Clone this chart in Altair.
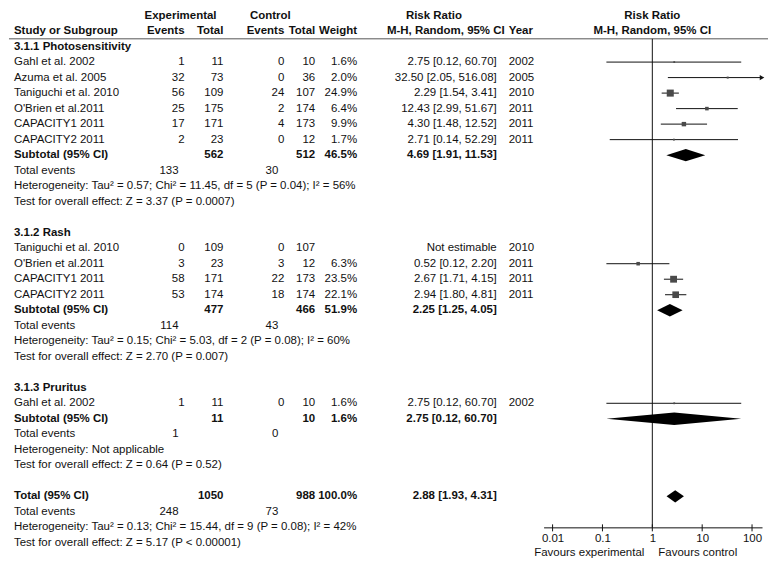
import altair as alt
import pandas as pd

# ---------------- data ----------------
subgroup_titles = ["3.1.1 Photosensitivity", "3.1.2 Rash", "3.1.3 Pruritus"]

photo_study = ["Gahl et al. 2002", "Azuma et al. 2005", "Taniguchi et al. 2010",
               "O'Brien et al.2011", "CAPACITY1 2011", "CAPACITY2 2011"]
photo_exp_events = [1, 32, 56, 25, 17, 2]
photo_exp_total = [11, 73, 109, 175, 171, 23]
photo_ctl_events = [0, 0, 24, 2, 4, 0]
photo_ctl_total = [10, 36, 107, 174, 173, 12]
photo_weight = [1.6, 2.0, 24.9, 6.4, 9.9, 1.7]
photo_rr = [2.75, 32.50, 2.29, 12.43, 4.30, 2.71]
photo_lo = [0.12, 2.05, 1.54, 2.99, 1.48, 0.14]
photo_hi = [60.70, 516.08, 3.41, 51.67, 12.52, 52.29]
photo_year = [2002, 2005, 2010, 2011, 2011, 2011]

rash_study = ["Taniguchi et al. 2010", "O'Brien et al.2011", "CAPACITY1 2011", "CAPACITY2 2011"]
rash_exp_events = [0, 3, 58, 53]
rash_exp_total = [109, 23, 171, 174]
rash_ctl_events = [0, 3, 22, 18]
rash_ctl_total = [107, 12, 173, 174]
rash_weight = [None, 6.3, 23.5, 22.1]
rash_rr = [None, 0.52, 2.67, 2.94]
rash_lo = [None, 0.12, 1.71, 1.80]
rash_hi = [None, 2.20, 4.15, 4.81]
rash_year = [2010, 2011, 2011, 2011]

pru_study = ["Gahl et al. 2002"]
pru_exp_events = [1]
pru_exp_total = [11]
pru_ctl_events = [0]
pru_ctl_total = [10]
pru_weight = [1.6]
pru_rr = [2.75]
pru_lo = [0.12]
pru_hi = [60.70]
pru_year = [2002]

sub_exp_total = [562, 477, 11]
sub_ctl_total = [512, 466, 10]
sub_weight = [46.5, 51.9, 1.6]
sub_rr = [4.69, 2.25, 2.75]
sub_lo = [1.91, 1.25, 0.12]
sub_hi = [11.53, 4.05, 60.70]
sub_exp_events = [133, 114, 1]
sub_ctl_events = [30, 43, 0]
sub_het = ["Heterogeneity: Tau² = 0.57; Chi² = 11.45, df = 5 (P = 0.04); I² = 56%",
           "Heterogeneity: Tau² = 0.15; Chi² = 5.03, df = 2 (P = 0.08); I² = 60%",
           "Heterogeneity: Not applicable"]
sub_test = ["Test for overall effect: Z = 3.37 (P = 0.0007)",
            "Test for overall effect: Z = 2.70 (P = 0.007)",
            "Test for overall effect: Z = 0.64 (P = 0.52)"]

total_exp_total = 1050
total_ctl_total = 988
total_weight = 100.0
total_rr, total_lo, total_hi = 2.88, 1.93, 4.31
total_exp_events = 248
total_ctl_events = 73
total_het = "Heterogeneity: Tau² = 0.13; Chi² = 15.44, df = 9 (P = 0.08); I² = 42%"
total_test = "Test for overall effect: Z = 5.17 (P < 0.00001)"

axis_ticks = [0.01, 0.1, 1, 10, 100]

# ---------------- layout / style ----------------
FONT = "Liberation Sans"
FS = 11.5
TXT = "#111"
W = 761
H = 519
ROW_PX = 15.55
Y_MAX = 33
Y_MIN = Y_MAX - H / ROW_PX
X_RANGE = [536, 755]
X_DOMAIN = [0.0066, 158.5]
DIAMOND_HALF = 0.4

COLS = {
    "name": (5, "left"),
    "ee": (176, "right"),
    "et": (215, "right"),
    "ce": (276, "right"),
    "ct": (307, "right"),
    "w": (349, "right"),
    "ci": (489, "right"),
    "yr": (501, "left"),
    "exp_hdr": (172, "center"),
    "ctl_hdr": (262, "center"),
    "rr_hdr": (426, "center"),
    "mh_hdr": (497, "right"),
    "te_e": (170, "right"),
    "te_c": (270, "right"),
}

# ---------------- build tables ----------------
groups = [
    (photo_study, photo_exp_events, photo_exp_total, photo_ctl_events, photo_ctl_total,
     photo_weight, photo_rr, photo_lo, photo_hi, photo_year),
    (rash_study, rash_exp_events, rash_exp_total, rash_ctl_events, rash_ctl_total,
     rash_weight, rash_rr, rash_lo, rash_hi, rash_year),
    (pru_study, pru_exp_events, pru_exp_total, pru_ctl_events, pru_ctl_total,
     pru_weight, pru_rr, pru_lo, pru_hi, pru_year),
]

text_rows, ci_rows, dia_rows = [], [], []


def put(row, col, text, bold=False):
    text_rows.append({"row": row, "col": col, "text": str(text), "bold": bold})


def ci_str(rr, lo, hi):
    return f"{rr:.2f} [{lo:.2f}, {hi:.2f}]"


def diamond(row, rr, lo, hi, did):
    for xv, pos in ((lo, 0), (rr, 1), (hi, 0)):
        dia_rows.append({"id": did, "x": xv, "row": row, "pos": pos})


put(0, "exp_hdr", "Experimental", True)
put(0, "ctl_hdr", "Control", True)
put(0, "rr_hdr", "Risk Ratio", True)
put(1, "name", "Study or Subgroup", True)
put(1, "ee", "Events", True)
put(1, "et", "Total", True)
put(1, "ce", "Events", True)
put(1, "ct", "Total", True)
put(1, "w", "Weight", True)
put(1, "mh_hdr", "M-H, Random, 95% CI", True)
put(1, "yr", "Year", True)

r = 2
for gi, g in enumerate(groups):
    study, ee, et, ce, ct, w, rr, lo, hi, yr = g
    put(r, "name", subgroup_titles[gi], True)
    r += 1
    for i in range(len(study)):
        put(r, "name", study[i])
        put(r, "ee", ee[i])
        put(r, "et", et[i])
        put(r, "ce", ce[i])
        put(r, "ct", ct[i])
        if rr[i] is None:
            put(r, "ci", "Not estimable")
        else:
            put(r, "w", f"{w[i]:.1f}%")
            put(r, "ci", ci_str(rr[i], lo[i], hi[i]))
            ci_rows.append({"row": r, "rr": rr[i], "lo": lo[i], "hi": hi[i], "w": w[i]})
        put(r, "yr", yr[i])
        r += 1
    put(r, "name", "Subtotal (95% CI)", True)
    put(r, "et", sub_exp_total[gi], True)
    put(r, "ct", sub_ctl_total[gi], True)
    put(r, "w", f"{sub_weight[gi]:.1f}%", True)
    put(r, "ci", ci_str(sub_rr[gi], sub_lo[gi], sub_hi[gi]), True)
    diamond(r, sub_rr[gi], sub_lo[gi], sub_hi[gi], f"s{gi}")
    r += 1
    put(r, "name", "Total events")
    put(r, "te_e", sub_exp_events[gi])
    put(r, "te_c", sub_ctl_events[gi])
    r += 1
    put(r, "name", sub_het[gi])
    r += 1
    put(r, "name", sub_test[gi])
    r += 2

put(r, "name", "Total (95% CI)", True)
put(r, "et", total_exp_total, True)
put(r, "ct", total_ctl_total, True)
put(r, "w", f"{total_weight:.1f}%", True)
put(r, "ci", ci_str(total_rr, total_lo, total_hi), True)
diamond(r, total_rr, total_lo, total_hi, "total")
r += 1
put(r, "name", "Total events")
put(r, "te_e", total_exp_events)
put(r, "te_c", total_ctl_events)
r += 1
put(r, "name", total_het)
r += 1
put(r, "name", total_test)

tdf = pd.DataFrame(text_rows)
cdf = pd.DataFrame(ci_rows)
ddf = pd.DataFrame(dia_rows)

# ---------------- encodings ----------------
yscale = alt.Scale(domain=[Y_MIN, Y_MAX], reverse=True, nice=False, zero=False)
Y = alt.Y("row:Q", scale=yscale, axis=None)
xscale = alt.Scale(type="log", domain=X_DOMAIN, range=X_RANGE, clamp=True, nice=False)
xaxis = alt.Axis(values=axis_ticks, format="~g", ticks=False, grid=False, title=None,
                 domainColor="#111", domainWidth=1, labelFont=FONT, labelFontSize=FS,
                 labelColor=TXT, labelPadding=5)


def X(field):
    return alt.X(field, scale=xscale, axis=xaxis)


layers = []

# header underline
layers.append(
    alt.Chart(pd.DataFrame({"row": [1.5]})).mark_rule(color="#555", strokeWidth=1).encode(
        x=alt.value(0), x2=alt.value(W), y=Y)
)

# table text
base = alt.Chart(tdf)
for col, (xp, al) in COLS.items():
    for b in (False, True):
        sel = tdf[(tdf["col"] == col) & (tdf["bold"] == b)]
        if len(sel) == 0:
            continue
        layers.append(
            base.transform_filter(
                f"datum.col == '{col}' && datum.bold == {'true' if b else 'false'}"
            ).mark_text(align=al, baseline="middle", font=FONT, fontSize=FS, color=TXT,
                        fontWeight="bold" if b else "normal").encode(
                x=alt.value(xp), y=Y, text="text:N")
        )

# forest header
fh = pd.DataFrame({"row": [0, 1], "xv": [1, 1], "text": ["Risk Ratio", "M-H, Random, 95% CI"]})
layers.append(
    alt.Chart(fh).mark_text(align="center", baseline="middle", font=FONT, fontSize=FS,
                            color=TXT, fontWeight="bold").encode(
        x=X("xv:Q"), y=Y, text="text:N")
)

# line of no effect
layers.append(
    alt.Chart(pd.DataFrame({"xv": [1], "row": [1.5], "row2": [Y_MAX]})).mark_rule(
        color="#111", strokeWidth=1).encode(x=X("xv:Q"), y=Y, y2="row2:Q")
)

# axis ticks crossing the axis line
layers.append(
    alt.Chart(pd.DataFrame({"t": axis_ticks})).mark_rule(color="#111", strokeWidth=1).encode(
        x=X("t:Q"), y=alt.value(H - 3), y2=alt.value(H + 4))
)

# CI lines
layers.append(
    alt.Chart(cdf).mark_rule(color="#111", strokeWidth=1).encode(
        x=X("lo:Q"), x2="hi:Q", y=Y)
)
# squares
layers.append(
    alt.Chart(cdf).transform_calculate(sz="datum.w * 2").mark_square(
        color="#4a4a4a", filled=True, opacity=1).encode(
        x=X("rr:Q"), y=Y, size=alt.Size("sz:Q", scale=None, legend=None))
)
# arrow for truncated CI
layers.append(
    alt.Chart(cdf).transform_filter(f"datum.hi > {X_DOMAIN[1]}").mark_point(
        shape="triangle-right", filled=True, size=28, color="#111", opacity=1).encode(
        x=X("hi:Q"), y=Y)
)
# diamonds
layers.append(
    alt.Chart(ddf).transform_calculate(
        ya=f"datum.row - {DIAMOND_HALF} * datum.pos",
        yb=f"datum.row + {DIAMOND_HALF} * datum.pos",
    ).mark_area(orient="vertical", color="#000", opacity=1).encode(
        x=X("x:Q"),
        y=alt.Y("ya:Q", scale=yscale, axis=None, stack=None),
        y2="yb:Q",
        detail="id:N",
    )
)

# favours labels
fav = pd.DataFrame({"xv": [1], "left": ["Favours experimental"], "right": ["Favours control"]})
layers.append(
    alt.Chart(fav).mark_text(align="right", baseline="middle", font=FONT, fontSize=FS,
                             color=TXT, dx=-8).encode(
        x=X("xv:Q"), y=alt.value(H + 26), text="left:N")
)
layers.append(
    alt.Chart(fav).mark_text(align="left", baseline="middle", font=FONT, fontSize=FS,
                             color=TXT, dx=6).encode(
        x=X("xv:Q"), y=alt.value(H + 26), text="right:N")
)

chart = alt.layer(*layers).properties(width=W, height=H, padding=0).configure_view(stroke=None)

chart.save("out.html", embed_options={"renderer": "svg", "actions": False})
